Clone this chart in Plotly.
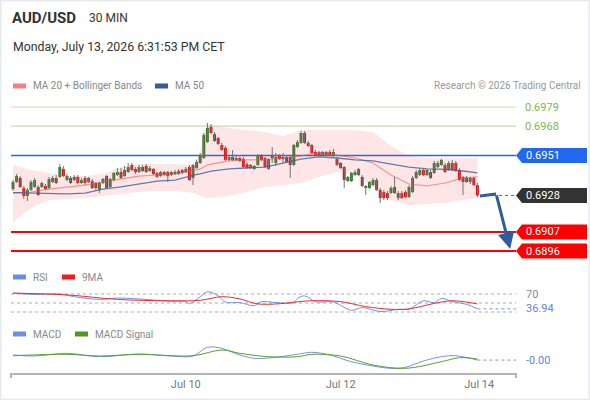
import plotly.graph_objects as go

W, H = 590, 400

# 30 min candles (bar 0 = first visible bar)
candle_open = [
    0.69317, 0.69358, 0.69381, 0.69323, 0.69277, 0.69312, 0.69329, 0.69329, 0.69329, 0.69335,
    0.69323, 0.69358, 0.69381, 0.69387, 0.69433, 0.69369, 0.69381, 0.69369, 0.69387, 0.69352,
    0.69381, 0.69358, 0.69363, 0.69352, 0.69312, 0.69352, 0.69392, 0.69329, 0.69369, 0.69398,
    0.69415, 0.69392, 0.69415, 0.69456, 0.69433, 0.69415, 0.69444, 0.69450, 0.69421, 0.69433,
    0.69410, 0.69392, 0.69415, 0.69415, 0.69398, 0.69415, 0.69404, 0.69427, 0.69415, 0.69444,
    0.69381, 0.69438, 0.69467, 0.69496, 0.69588, 0.69675, 0.69634, 0.69611, 0.69571, 0.69554,
    0.69485, 0.69502, 0.69485, 0.69496, 0.69490, 0.69461, 0.69438, 0.69433, 0.69456, 0.69513,
    0.69496, 0.69433, 0.69508, 0.69467, 0.69508, 0.69502, 0.69502, 0.69502, 0.69456, 0.69559,
    0.69583, 0.69640, 0.69583, 0.69571, 0.69531, 0.69531, 0.69513, 0.69531, 0.69531, 0.69513,
    0.69490, 0.69467, 0.69444, 0.69363, 0.69363, 0.69398, 0.69398, 0.69387, 0.69323, 0.69323,
    0.69340, 0.69369, 0.69312, 0.69300, 0.69294, 0.69294, 0.69329, 0.69265, 0.69294, 0.69300,
    0.69271, 0.69300, 0.69381, 0.69398, 0.69427, 0.69398, 0.69415, 0.69410, 0.69444, 0.69456,
    0.69456, 0.69427, 0.69467, 0.69467, 0.69427, 0.69387, 0.69381, 0.69358, 0.69381, 0.69340,
]
candle_high = [
    0.69369, 0.69404, 0.69392, 0.69335, 0.69323, 0.69369, 0.69381, 0.69340, 0.69358, 0.69346,
    0.69387, 0.69392, 0.69398, 0.69461, 0.69450, 0.69404, 0.69392, 0.69398, 0.69398, 0.69381,
    0.69392, 0.69387, 0.69375, 0.69358, 0.69358, 0.69381, 0.69398, 0.69381, 0.69415, 0.69438,
    0.69438, 0.69450, 0.69467, 0.69467, 0.69444, 0.69456, 0.69456, 0.69461, 0.69450, 0.69438,
    0.69415, 0.69421, 0.69421, 0.69421, 0.69421, 0.69427, 0.69433, 0.69433, 0.69444, 0.69456,
    0.69461, 0.69485, 0.69525, 0.69640, 0.69698, 0.69692, 0.69646, 0.69617, 0.69583, 0.69565,
    0.69513, 0.69542, 0.69508, 0.69502, 0.69502, 0.69473, 0.69461, 0.69456, 0.69519, 0.69519,
    0.69502, 0.69496, 0.69559, 0.69525, 0.69519, 0.69525, 0.69513, 0.69513, 0.69577, 0.69600,
    0.69652, 0.69652, 0.69594, 0.69577, 0.69542, 0.69536, 0.69536, 0.69536, 0.69542, 0.69548,
    0.69502, 0.69473, 0.69450, 0.69392, 0.69415, 0.69427, 0.69438, 0.69398, 0.69340, 0.69363,
    0.69381, 0.69381, 0.69323, 0.69312, 0.69306, 0.69335, 0.69387, 0.69306, 0.69306, 0.69312,
    0.69340, 0.69392, 0.69427, 0.69438, 0.69438, 0.69433, 0.69427, 0.69479, 0.69479, 0.69490,
    0.69467, 0.69479, 0.69485, 0.69479, 0.69438, 0.69392, 0.69392, 0.69387, 0.69387, 0.69352,
]
candle_low = [
    0.69306, 0.69352, 0.69323, 0.69260, 0.69248, 0.69306, 0.69323, 0.69277, 0.69323, 0.69312,
    0.69317, 0.69352, 0.69346, 0.69381, 0.69387, 0.69363, 0.69346, 0.69363, 0.69346, 0.69346,
    0.69340, 0.69352, 0.69317, 0.69312, 0.69294, 0.69346, 0.69317, 0.69323, 0.69363, 0.69392,
    0.69375, 0.69387, 0.69410, 0.69421, 0.69404, 0.69410, 0.69415, 0.69410, 0.69415, 0.69398,
    0.69381, 0.69387, 0.69392, 0.69358, 0.69392, 0.69398, 0.69398, 0.69404, 0.69410, 0.69363,
    0.69340, 0.69433, 0.69461, 0.69490, 0.69583, 0.69634, 0.69588, 0.69571, 0.69536, 0.69479,
    0.69479, 0.69479, 0.69479, 0.69473, 0.69438, 0.69433, 0.69433, 0.69427, 0.69450, 0.69479,
    0.69438, 0.69427, 0.69467, 0.69450, 0.69485, 0.69467, 0.69467, 0.69381, 0.69450, 0.69554,
    0.69577, 0.69577, 0.69559, 0.69519, 0.69508, 0.69508, 0.69508, 0.69508, 0.69508, 0.69502,
    0.69450, 0.69433, 0.69323, 0.69358, 0.69358, 0.69392, 0.69392, 0.69329, 0.69283, 0.69317,
    0.69335, 0.69306, 0.69237, 0.69254, 0.69254, 0.69289, 0.69289, 0.69254, 0.69260, 0.69265,
    0.69265, 0.69294, 0.69375, 0.69392, 0.69392, 0.69392, 0.69375, 0.69404, 0.69438, 0.69450,
    0.69410, 0.69421, 0.69421, 0.69415, 0.69363, 0.69283, 0.69352, 0.69346, 0.69335, 0.69271,
]
candle_close = [
    0.69358, 0.69392, 0.69329, 0.69277, 0.69312, 0.69358, 0.69369, 0.69283, 0.69352, 0.69317,
    0.69375, 0.69381, 0.69352, 0.69444, 0.69392, 0.69392, 0.69352, 0.69387, 0.69352, 0.69369,
    0.69352, 0.69381, 0.69323, 0.69323, 0.69352, 0.69375, 0.69323, 0.69375, 0.69410, 0.69415,
    0.69381, 0.69427, 0.69444, 0.69427, 0.69415, 0.69444, 0.69421, 0.69415, 0.69438, 0.69404,
    0.69387, 0.69415, 0.69398, 0.69392, 0.69415, 0.69404, 0.69421, 0.69410, 0.69433, 0.69369,
    0.69456, 0.69473, 0.69513, 0.69629, 0.69669, 0.69640, 0.69594, 0.69577, 0.69542, 0.69485,
    0.69502, 0.69485, 0.69496, 0.69479, 0.69444, 0.69438, 0.69456, 0.69450, 0.69513, 0.69485,
    0.69444, 0.69490, 0.69496, 0.69502, 0.69490, 0.69490, 0.69473, 0.69456, 0.69571, 0.69588,
    0.69640, 0.69583, 0.69565, 0.69525, 0.69513, 0.69513, 0.69531, 0.69513, 0.69513, 0.69531,
    0.69456, 0.69438, 0.69369, 0.69387, 0.69410, 0.69415, 0.69433, 0.69335, 0.69335, 0.69358,
    0.69369, 0.69312, 0.69265, 0.69265, 0.69265, 0.69323, 0.69294, 0.69294, 0.69265, 0.69271,
    0.69329, 0.69381, 0.69415, 0.69427, 0.69398, 0.69427, 0.69381, 0.69467, 0.69467, 0.69485,
    0.69415, 0.69467, 0.69427, 0.69421, 0.69369, 0.69358, 0.69358, 0.69381, 0.69340, 0.69280,
]

# moving averages and bands, read at a handful of bars
band_idx = [0, 5, 10, 15, 20, 25, 30, 35, 40, 45, 50, 51, 52, 53, 54, 55, 60, 65, 70, 75,
            80, 85, 90, 95, 100, 105, 110, 115, 120, 125, 129]
ma50 = [0.69297, 0.69294, 0.69291, 0.69289, 0.69294, 0.69317, 0.69329, 0.69346, 0.69363, 0.69369,
        0.69398, 0.69401, 0.69404, 0.69410, 0.69415, 0.69421, 0.69433, 0.69438, 0.69444, 0.69467,
        0.69490, 0.69502, 0.69496, 0.69485, 0.69479, 0.69461, 0.69444, 0.69433, 0.69430, 0.69421,
        0.69410]
ma20 = [0.69294, 0.69300, 0.69317, 0.69329, 0.69340, 0.69358, 0.69375, 0.69392, 0.69398, 0.69404,
        0.69421, 0.69427, 0.69433, 0.69444, 0.69456, 0.69461, 0.69479, 0.69485, 0.69485, 0.69496,
        0.69508, 0.69525, 0.69513, 0.69496, 0.69467, 0.69398, 0.69346, 0.69335, 0.69352, 0.69381,
        0.69387]
bb_upper = [0.69456, 0.69427, 0.69410, 0.69392, 0.69392, 0.69404, 0.69444, 0.69461, 0.69461, 0.69461,
            0.69456, 0.69496, 0.69531, 0.69646, 0.69681, 0.69686, 0.69669, 0.69657, 0.69646, 0.69623,
            0.69657, 0.69657, 0.69657, 0.69657, 0.69646, 0.69565, 0.69508, 0.69496, 0.69496, 0.69496,
            0.69496]
bb_lower = [0.69127, 0.69208, 0.69254, 0.69260, 0.69265, 0.69277, 0.69289, 0.69300, 0.69306, 0.69306,
            0.69294, 0.69289, 0.69277, 0.69271, 0.69265, 0.69265, 0.69277, 0.69300, 0.69329, 0.69340,
            0.69352, 0.69387, 0.69415, 0.69404, 0.69329, 0.69254, 0.69225, 0.69231, 0.69237, 0.69254,
            0.69265]

# RSI(14) and its 9 period MA
rsi_idx = [0, 6, 13, 17, 24, 29, 35, 43, 48, 49, 52, 54, 57, 59, 63, 67, 69, 73, 78, 79,
           81, 84, 89, 94, 97, 102, 107, 110, 114, 117, 119, 122, 126, 129]
rsi = [72, 69, 70, 64, 58, 61, 59, 54, 53, 49, 64, 75, 66, 52, 51, 44, 53, 51, 51, 60,
       66, 53, 52, 34, 40, 31, 36, 36, 55, 51, 60, 53, 47, 36.94]
rsi_ma_idx = [0, 15, 29, 43, 52, 58, 63, 68, 75, 77, 83, 91, 98, 105, 110, 117, 122, 129]
rsi_ma = [72, 68, 58, 55, 56, 64, 59, 48, 49, 51, 55, 53, 42, 36, 37, 49, 55, 48]
rsi_levels = [70, 50, 30]

# MACD and signal
macd_idx = [0, 6, 15, 24, 35, 44, 50, 54, 58, 63, 67, 72, 79, 83, 88, 94, 100, 105, 109, 114,
            119, 123, 129]
macd = [0.000167, 0.000133, 0.000223, 0.00011, 0.0002, 0.000133, 0.000133, 0.000423, 0.00039,
        0.000167, 0.000057, 0.000077, 0.00019, 0.000257, 0.000167, -0.000057, -0.0002, -0.000277,
        -0.000243, -0.000033, 0.00011, 0.000143, -0.000002]
signal_idx = [0, 15, 24, 35, 50, 58, 63, 71, 79, 83, 91, 100, 109, 119, 124, 129]
signal = [0.000143, 0.00019, 0.000133, 0.00019, 0.000143, 0.000333, 0.000223, 0.00011, 0.00011,
          0.00019, 0.000133, -0.000167, -0.000277, -0.000057, 0.000077, 0.000033]

# key levels
resist_levels = [0.6979, 0.6968]
pivot_level = 0.6951
support_levels = [0.6907, 0.6896]

# forecast arrow (bar position, price)
arrow_x = [129.7, 134.2, 138.1]
arrow_y = [0.69277, 0.69289, 0.68972]

tick_pos = [48, 91, 129.5]
tick_text = ["Jul 10", "Jul 12", "Jul 14"]

FONT = "Roboto"
X0, X1 = 11 / W, 516 / W
XR = [-0.556, 139.72]
UP, DOWN = "#2a7b2a", "#dc0b0b"


def py(p):
    # pixel row -> paper fraction
    return 1 - p / H


bars = list(range(len(candle_close)))

fig = go.Figure()

# bollinger band
fig.add_trace(go.Scatter(x=band_idx, y=bb_upper, mode="lines", line=dict(width=0),
                         hoverinfo="skip", showlegend=False))
fig.add_trace(go.Scatter(x=band_idx, y=bb_lower, mode="lines", line=dict(width=0),
                         fill="tonexty", fillcolor="rgba(255,60,60,0.13)",
                         hoverinfo="skip", showlegend=False))
fig.add_trace(go.Scatter(x=band_idx, y=ma20, mode="lines", line=dict(color="rgba(240,90,90,0.6)", width=1.2),
                         hoverinfo="skip", showlegend=False))
fig.add_trace(go.Scatter(x=band_idx, y=ma50, mode="lines", line=dict(color="rgba(45,85,160,0.75)", width=1.3),
                         hoverinfo="skip", showlegend=False))

# gray wicks under the bodies
wick_x, wick_y = [], []
for i in bars:
    wick_x += [i, i, None]
    wick_y += [candle_low[i], candle_high[i], None]
fig.add_trace(go.Scatter(x=wick_x, y=wick_y, mode="lines", line=dict(color="#727272", width=1),
                         hoverinfo="skip", showlegend=False))

# candle bodies as floating bars
body_base = [min(o, c) for o, c in zip(candle_open, candle_close)]
body_len = [abs(c - o) for o, c in zip(candle_open, candle_close)]
body_col = [UP if c >= o else DOWN for o, c in zip(candle_open, candle_close)]
fig.add_trace(go.Bar(x=bars, y=body_len, base=body_base, width=0.82,
                     marker=dict(color=body_col, line=dict(width=0)),
                     hoverinfo="skip", showlegend=False))

# forecast arrow
fig.add_trace(go.Scatter(x=arrow_x[:2], y=arrow_y[:2], mode="lines",
                         line=dict(color="#2d5d9c", width=3), hoverinfo="skip", showlegend=False))

# RSI panel
fig.add_trace(go.Scatter(x=rsi_idx, y=rsi, yaxis="y2", mode="lines", line=dict(color="#7193e8", width=1),
                         line_shape="spline", hoverinfo="skip", showlegend=False))
fig.add_trace(go.Scatter(x=rsi_ma_idx, y=rsi_ma, yaxis="y2", mode="lines", line=dict(color="#ee2b2b", width=1),
                         line_shape="spline", hoverinfo="skip", showlegend=False))

# MACD panel
fig.add_trace(go.Scatter(x=macd_idx, y=macd, yaxis="y3", mode="lines", line=dict(color="#7193e8", width=1),
                         line_shape="spline", hoverinfo="skip", showlegend=False))
fig.add_trace(go.Scatter(x=signal_idx, y=signal, yaxis="y3", mode="lines", line=dict(color="#5a9e2a", width=1),
                         line_shape="spline", hoverinfo="skip", showlegend=False))

shapes = []
annotations = []

# level lines and labels
ph = 7.5 / 17350  # half label height in price units
for lv in resist_levels:
    shapes.append(dict(type="line", xref="paper", yref="y", x0=X0, x1=X1, y0=lv, y1=lv,
                       line=dict(color="#c7dfac", width=1.2), layer="below"))
    annotations.append(dict(xref="paper", yref="y", x=523 / W, y=lv, text=f"{lv:.4f}",
                            showarrow=False, xanchor="left", yanchor="middle",
                            font=dict(family=FONT, size=11, color="#7fb548")))


def boxed(lv, line_col, box_col, lw):
    if line_col:
        shapes.append(dict(type="line", xref="paper", yref="y", x0=X0, x1=X1, y0=lv, y1=lv,
                           line=dict(color=line_col, width=lw), layer="below"))
    a, b, c = 516 / W, 522 / W, 587 / W
    shapes.append(dict(type="path", xref="paper", yref="y", fillcolor=box_col, line=dict(width=0),
                       path=f"M{a},{lv} L{b},{lv + ph} L{c},{lv + ph} L{c},{lv - ph} L{b},{lv - ph} Z"))
    annotations.append(dict(xref="paper", yref="y", x=524 / W, y=lv, text=f"{lv:.4f}",
                            showarrow=False, xanchor="left", yanchor="middle",
                            font=dict(family=FONT, size=11, color="white")))


boxed(pivot_level, "#2267f0", "#2267f0", 1.5)
for lv in support_levels:
    boxed(lv, "#ff0000", "#ff0000", 2)
last_close = candle_close[-1]
shapes.append(dict(type="line", xref="x", yref="y", x0=bars[-1] + 1, x1=XR[1], y0=last_close, y1=last_close,
                   line=dict(color="#666", width=1, dash="dot")))
boxed(round(last_close, 4), None, "#333333", 0)

# arrow head segment
annotations.append(dict(x=arrow_x[2], y=arrow_y[2], ax=arrow_x[1], ay=arrow_y[1], xref="x", yref="y",
                        axref="x", ayref="y", showarrow=True, arrowhead=2, arrowsize=1.1,
                        arrowwidth=3, arrowcolor="#2d5d9c", text=""))

# RSI guide lines and labels
for lv in rsi_levels:
    shapes.append(dict(type="line", xref="paper", yref="y2", x0=X0, x1=X1, y0=lv, y1=lv,
                       line=dict(color="#aaaaaa", width=1, dash="dot"), layer="below"))
shapes.append(dict(type="line", xref="x", yref="y2", x0=rsi_idx[-1], x1=XR[1], y0=rsi[-1], y1=rsi[-1],
                   line=dict(color="#7193e8", width=1, dash="dot")))
annotations.append(dict(xref="paper", yref="y2", x=524 / W, y=rsi_levels[0], text=str(rsi_levels[0]),
                        showarrow=False, xanchor="left", font=dict(family=FONT, size=11, color="#888")))
annotations.append(dict(xref="paper", yref="y2", x=524 / W, y=rsi[-1], text=f"{rsi[-1]:.2f}",
                        showarrow=False, xanchor="left", font=dict(family=FONT, size=11, color="#5f83e3")))
shapes.append(dict(type="line", xref="x", yref="y3", x0=macd_idx[-1], x1=XR[1], y0=macd[-1], y1=macd[-1],
                   line=dict(color="#7193e8", width=1, dash="dot")))
annotations.append(dict(xref="paper", yref="y3", x=524 / W, y=macd[-1], text=f"{macd[-1]:.2f}",
                        showarrow=False, xanchor="left", font=dict(family=FONT, size=11, color="#5f83e3")))

# axis end ticks
for xp in (X0, X1):
    shapes.append(dict(type="line", xref="paper", yref="paper", x0=xp, x1=xp, y0=py(373), y1=py(378),
                       line=dict(color="#b4b4b4", width=2)))

# outer frame
shapes.append(dict(type="rect", xref="paper", yref="paper", x0=0, x1=1, y0=0, y1=1,
                   line=dict(color="#e6ebf0", width=3)))


# legends
def swatch(x, y, col):
    shapes.append(dict(type="rect", xref="paper", yref="paper", x0=x / W, x1=(x + 13) / W,
                       y0=py(y + 2.5), y1=py(y - 2.5), fillcolor=col, line=dict(width=0)))


def label(x, y, txt, size=10, col="#888", anchor="left", bold=False):
    annotations.append(dict(xref="paper", yref="paper", x=x / W, y=py(y), text=f"<b>{txt}</b>" if bold else txt,
                            showarrow=False, xanchor=anchor, yanchor="middle",
                            font=dict(family=FONT, size=size, color=col)))


label(10, 18, "AUD/USD", size=15, col="#333", bold=True)
label(87, 18, "30 MIN", size=12, col="#333")
label(11, 47, "Monday, July 13, 2026 6:31:53 PM CET", size=12.3, col="#333")

swatch(13, 86, "#f77f7f")
label(31, 86, "MA 20 + Bollinger Bands")
swatch(155, 86, "#37599a")
label(173, 86, "MA 50")
label(583, 86, "Research © 2026 Trading Central", col="#999", anchor="right")

swatch(13, 277, "#6a8ee6")
label(31, 277, "RSI")
swatch(62, 277, "#ee1c1c")
label(80, 277, "9MA")

swatch(13, 334, "#6a8ee6")
label(31, 334, "MACD")
swatch(75, 334, "#4f9a1c")
label(93, 334, "MACD Signal")

fig.update_layout(
    width=W, height=H,
    margin=dict(l=0, r=0, t=0, b=0),
    paper_bgcolor="white", plot_bgcolor="white",
    font=dict(family=FONT, size=11, color="#777"),
    showlegend=False,
    shapes=shapes, annotations=annotations,
    xaxis=dict(domain=[X0, X1], range=XR, anchor="y3", showline=True, linecolor="#b4b4b4", linewidth=2,
               tickvals=tick_pos, ticktext=tick_text, ticks="", showgrid=False, zeroline=False,
               tickfont=dict(family=FONT, size=11, color="#777"), rangeslider=dict(visible=False)),
    yaxis=dict(domain=[py(262), py(95)], range=[0.688966, 0.698592], visible=False),
    yaxis2=dict(domain=[py(325.5), py(280.5)], range=[0, 100], visible=False, anchor="x"),
    yaxis3=dict(domain=[py(373), py(343)], range=[-0.000433, 0.000567], visible=False, anchor="x"),
)

# page body has a default 8px margin; drop it so the figure sits at the window corner
fig.write_html("out.html", config={"displayModeBar": False},
               post_script="document.body.style.margin='0';")
